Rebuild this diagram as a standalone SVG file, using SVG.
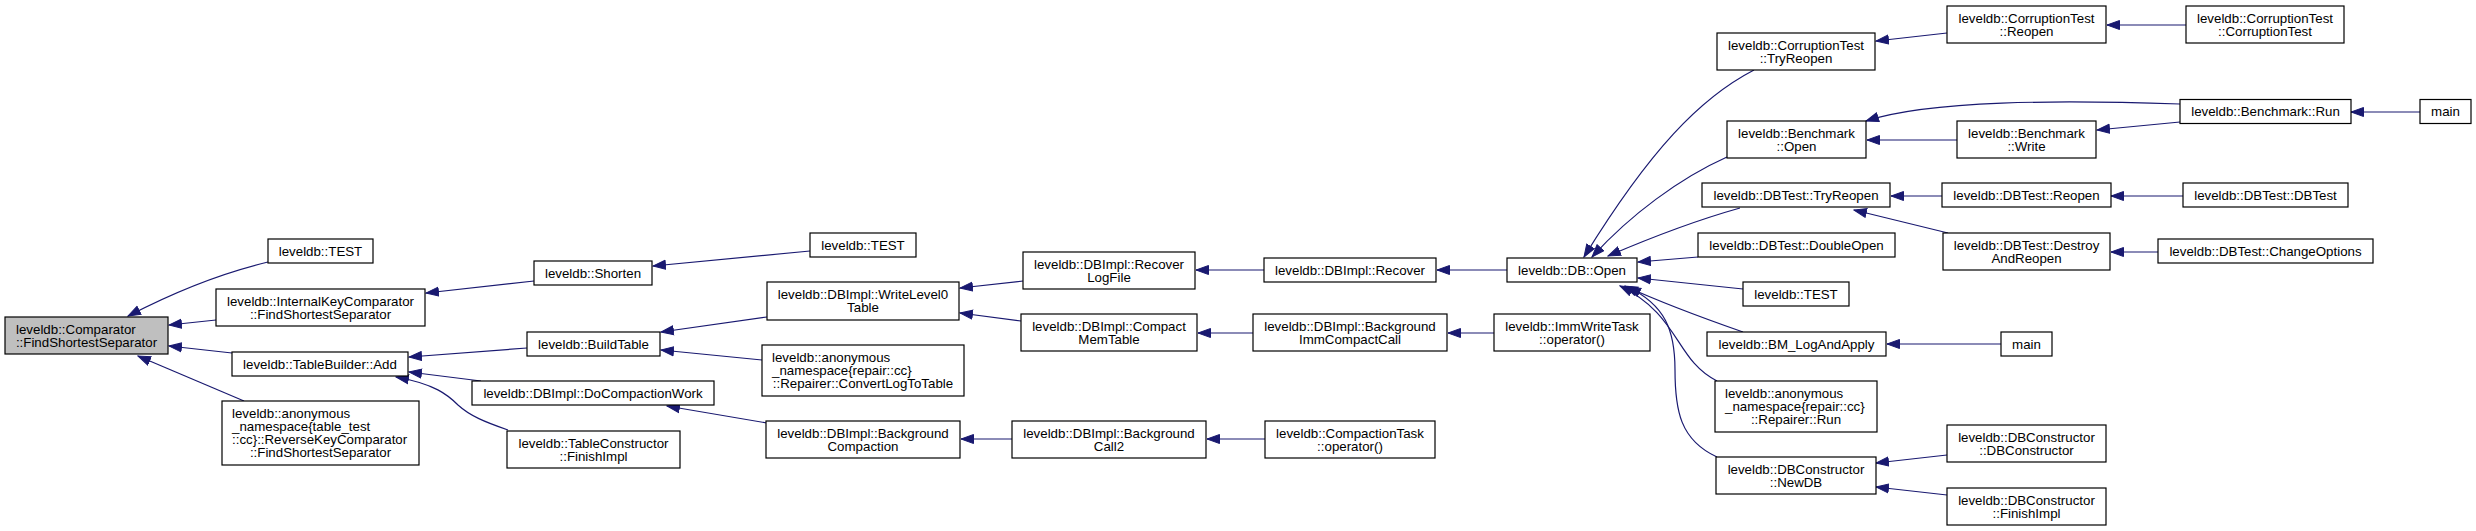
<svg xmlns="http://www.w3.org/2000/svg" width="2476" height="531" viewBox="0 0 2476 531">
<style>
rect.n{fill:#fff;stroke:#000;stroke-width:1.2}
rect.hl{fill:#bfbfbf}
text{font-family:"Liberation Sans",Arial,Helvetica,sans-serif;font-size:13.3px;fill:#000;text-anchor:middle}
text.l{text-anchor:start}
#edges path{fill:none;stroke:#191970;stroke-width:1.2;marker-end:url(#a)}
</style>
<defs>
<marker id="a" markerUnits="userSpaceOnUse" markerWidth="14" markerHeight="11" viewBox="0 0 14 11" refX="13" refY="5.5" orient="auto">
<path d="M0.5,1 L13,5.5 L0.5,10 z" fill="#191970" stroke="#191970" stroke-width="1"/>
</marker>
</defs>
<rect width="2476" height="531" fill="#fff"/>
<g id="edges">
<path d="M268,262 C226,272 178,290 128,316"/>
<path d="M216,320 L169,325"/>
<path d="M232,353 L169,346"/>
<path d="M244,401 L138,356"/>
<path d="M534,281 L426,293"/>
<path d="M810,251 L653,266"/>
<path d="M527,348 L409,357"/>
<path d="M481,381 L409,372"/>
<path d="M508,430 C485,422 470,416 458,405 C448,395 435,384 396,377"/>
<path d="M767,317 L661,332"/>
<path d="M762,360 L661,350"/>
<path d="M767,423 L667,406"/>
<path d="M1023,281 L960,288"/>
<path d="M1021,321 L960,313"/>
<path d="M1012,439 L961,439"/>
<path d="M1264,270 L1196,270"/>
<path d="M1253,333 L1198,333"/>
<path d="M1265,439 L1207,439"/>
<path d="M1507,270 L1437,270"/>
<path d="M1494,333 L1448,333"/>
<path d="M1754,70 C1700,98 1650,150 1584,257"/>
<path d="M1727,157 C1680,178 1630,215 1592,257"/>
<path d="M1740,208 C1690,222 1650,238 1608,256"/>
<path d="M1698,257 L1638,262"/>
<path d="M1743,289 L1638,278"/>
<path d="M1743,332 C1700,317 1660,302 1625,286"/>
<path d="M1717,381 C1675,360 1680,315 1620,286"/>
<path d="M1717,457 C1680,440 1675,410 1675,370 C1675,330 1665,305 1628,287"/>
<path d="M1947,33 L1876,41"/>
<path d="M2186,25 L2107,25"/>
<path d="M2180,104 C2060,100 1930,100 1866,121"/>
<path d="M1957,140 L1867,140"/>
<path d="M2180,122 L2097,130"/>
<path d="M2420,112 L2351,112"/>
<path d="M1942,196 L1891,196"/>
<path d="M1948,233 L1854,210"/>
<path d="M2183,196 L2111,196"/>
<path d="M2158,252 L2111,252"/>
<path d="M2001,344 L1887,344"/>
<path d="M1947,455 L1876,463"/>
<path d="M1947,495 L1876,487"/>
</g>
<g id="n0"><rect class="n hl" x="5" y="317" width="163" height="37"/><text class="l" x="16" y="333.5">leveldb::Comparator</text><text x="86.5" y="346.5">::FindShortestSeparator</text></g>
<g id="n1"><rect class="n" x="268" y="239" width="105" height="24"/><text x="320.5" y="255.5">leveldb::TEST</text></g>
<g id="n2"><rect class="n" x="216" y="289" width="209" height="37"/><text x="320.5" y="305.5">leveldb::InternalKeyComparator</text><text x="320.5" y="318.5">::FindShortestSeparator</text></g>
<g id="n3"><rect class="n" x="232" y="352" width="176" height="24"/><text x="320" y="368.5">leveldb::TableBuilder::Add</text></g>
<g id="n4"><rect class="n" x="222" y="401" width="197" height="64"/><text class="l" x="232" y="418">leveldb::anonymous</text><text class="l" x="232" y="431">_namespace{table_test</text><text class="l" x="232" y="444">::cc}::ReverseKeyComparator</text><text x="320.5" y="457">::FindShortestSeparator</text></g>
<g id="n5"><rect class="n" x="534" y="261" width="118" height="24"/><text x="593" y="277.5">leveldb::Shorten</text></g>
<g id="n6"><rect class="n" x="810" y="233" width="106" height="24"/><text x="863" y="249.5">leveldb::TEST</text></g>
<g id="n7"><rect class="n" x="527" y="332" width="133" height="24"/><text x="593.5" y="348.5">leveldb::BuildTable</text></g>
<g id="n8"><rect class="n" x="472" y="381" width="242" height="24"/><text x="593" y="397.5">leveldb::DBImpl::DoCompactionWork</text></g>
<g id="n9"><rect class="n" x="507" y="431" width="173" height="37"/><text x="593.5" y="447.5">leveldb::TableConstructor</text><text x="593.5" y="460.5">::FinishImpl</text></g>
<g id="n10"><rect class="n" x="767" y="282" width="192" height="38"/><text x="863" y="299">leveldb::DBImpl::WriteLevel0</text><text x="863" y="312">Table</text></g>
<g id="n11"><rect class="n" x="762" y="345" width="202" height="51"/><text class="l" x="772" y="362">leveldb::anonymous</text><text class="l" x="772" y="375">_namespace{repair::cc}</text><text x="863" y="388">::Repairer::ConvertLogToTable</text></g>
<g id="n12"><rect class="n" x="766" y="421" width="194" height="37"/><text x="863" y="437.5">leveldb::DBImpl::Background</text><text x="863" y="450.5">Compaction</text></g>
<g id="n13"><rect class="n" x="1023" y="252" width="172" height="37"/><text x="1109" y="268.5">leveldb::DBImpl::Recover</text><text x="1109" y="281.5">LogFile</text></g>
<g id="n14"><rect class="n" x="1021" y="314" width="176" height="37"/><text x="1109" y="330.5">leveldb::DBImpl::Compact</text><text x="1109" y="343.5">MemTable</text></g>
<g id="n15"><rect class="n" x="1012" y="421" width="194" height="37"/><text x="1109" y="437.5">leveldb::DBImpl::Background</text><text x="1109" y="450.5">Call2</text></g>
<g id="n16"><rect class="n" x="1264" y="258" width="172" height="24"/><text x="1350" y="274.5">leveldb::DBImpl::Recover</text></g>
<g id="n17"><rect class="n" x="1253" y="314" width="194" height="37"/><text x="1350" y="330.5">leveldb::DBImpl::Background</text><text x="1350" y="343.5">ImmCompactCall</text></g>
<g id="n18"><rect class="n" x="1265" y="421" width="170" height="37"/><text x="1350" y="437.5">leveldb::CompactionTask</text><text x="1350" y="450.5">::operator()</text></g>
<g id="n19"><rect class="n" x="1507" y="258" width="130" height="24"/><text x="1572" y="274.5">leveldb::DB::Open</text></g>
<g id="n20"><rect class="n" x="1494" y="314" width="156" height="37"/><text x="1572" y="330.5">leveldb::ImmWriteTask</text><text x="1572" y="343.5">::operator()</text></g>
<g id="n21"><rect class="n" x="1717" y="33" width="158" height="37"/><text x="1796" y="49.5">leveldb::CorruptionTest</text><text x="1796" y="62.5">::TryReopen</text></g>
<g id="n22"><rect class="n" x="1727" y="121" width="139" height="37"/><text x="1796.5" y="137.5">leveldb::Benchmark</text><text x="1796.5" y="150.5">::Open</text></g>
<g id="n23"><rect class="n" x="1702" y="183" width="188" height="24"/><text x="1796" y="199.5">leveldb::DBTest::TryReopen</text></g>
<g id="n24"><rect class="n" x="1698" y="233" width="197" height="24"/><text x="1796.5" y="249.5">leveldb::DBTest::DoubleOpen</text></g>
<g id="n25"><rect class="n" x="1743" y="282" width="106" height="24"/><text x="1796" y="298.5">leveldb::TEST</text></g>
<g id="n26"><rect class="n" x="1707" y="332" width="179" height="24"/><text x="1796.5" y="348.5">leveldb::BM_LogAndApply</text></g>
<g id="n27"><rect class="n" x="1715" y="381" width="162" height="51"/><text class="l" x="1725" y="398">leveldb::anonymous</text><text class="l" x="1725" y="411">_namespace{repair::cc}</text><text x="1796" y="424">::Repairer::Run</text></g>
<g id="n28"><rect class="n" x="1716" y="457" width="160" height="37"/><text x="1796" y="473.5">leveldb::DBConstructor</text><text x="1796" y="486.5">::NewDB</text></g>
<g id="n29"><rect class="n" x="1947" y="6" width="159" height="37"/><text x="2026.5" y="22.5">leveldb::CorruptionTest</text><text x="2026.5" y="35.5">::Reopen</text></g>
<g id="n30"><rect class="n" x="2186" y="6" width="158" height="37"/><text x="2265" y="22.5">leveldb::CorruptionTest</text><text x="2265" y="35.5">::CorruptionTest</text></g>
<g id="n31"><rect class="n" x="2180" y="99.5" width="171" height="24"/><text x="2265.5" y="116">leveldb::Benchmark::Run</text></g>
<g id="n32"><rect class="n" x="2420" y="99.5" width="51" height="24"/><text x="2445.5" y="116">main</text></g>
<g id="n33"><rect class="n" x="1957" y="121" width="139" height="37"/><text x="2026.5" y="137.5">leveldb::Benchmark</text><text x="2026.5" y="150.5">::Write</text></g>
<g id="n34"><rect class="n" x="1942" y="183" width="169" height="24"/><text x="2026.5" y="199.5">leveldb::DBTest::Reopen</text></g>
<g id="n35"><rect class="n" x="2183" y="183" width="165" height="24"/><text x="2265.5" y="199.5">leveldb::DBTest::DBTest</text></g>
<g id="n36"><rect class="n" x="1943" y="233" width="167" height="37"/><text x="2026.5" y="249.5">leveldb::DBTest::Destroy</text><text x="2026.5" y="262.5">AndReopen</text></g>
<g id="n37"><rect class="n" x="2158" y="239" width="215" height="24"/><text x="2265.5" y="255.5">leveldb::DBTest::ChangeOptions</text></g>
<g id="n38"><rect class="n" x="2001" y="332" width="51" height="24"/><text x="2026.5" y="348.5">main</text></g>
<g id="n39"><rect class="n" x="1947" y="425" width="159" height="37"/><text x="2026.5" y="441.5">leveldb::DBConstructor</text><text x="2026.5" y="454.5">::DBConstructor</text></g>
<g id="n40"><rect class="n" x="1947" y="488" width="159" height="37"/><text x="2026.5" y="504.5">leveldb::DBConstructor</text><text x="2026.5" y="517.5">::FinishImpl</text></g>
</svg>
